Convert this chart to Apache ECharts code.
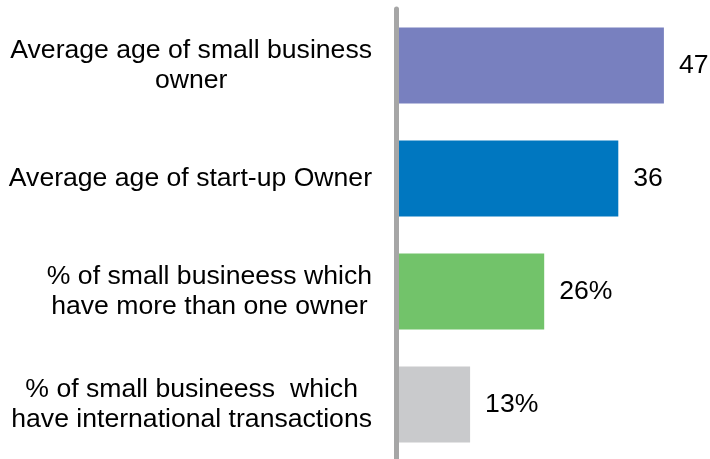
<!DOCTYPE html>
<html>
<head>
<meta charset="UTF-8">
<title>Small business owners</title>
<script src="https://cdn.jsdelivr.net/npm/echarts@6/dist/echarts.min.js"></script>
<style>
  html, body { margin: 0; padding: 0; background: #fff; }
  #main { width: 710px; height: 459px; }
</style>
</head>
<body>
<div id="main"></div>
<script>
// categories, top to bottom
var categories = [
  'Average age of small business\nowner',
  'Average age of start-up Owner',
  '% of small busineess which\nhave more than one owner',
  '% of small busineess  which\nhave international transactions'
];
// bar lengths as drawn in the picture
var barValues = [47, 39, 26, 13];
// text printed next to each bar
var valueLabels = ['47', '36', '26%', '13%'];
var barColors = ['#7880bf', '#0077c0', '#72c36a', '#c9cacc'];

var myChart = echarts.init(document.getElementById('main'));

myChart.setOption({
  animation: false,
  grid: {
    left: 396,
    top: 9,
    width: 285,
    height: 452,
    outerBoundsMode: 'none'
  },
  xAxis: {
    type: 'value',
    min: 0,
    max: 50,
    show: false,
    splitLine: { show: false }
  },
  yAxis: {
    type: 'category',
    inverse: true,
    data: categories,
    z: 3,
    axisLine: {
      show: true,
      lineStyle: { color: '#a6a6a6', width: 5 }
    },
    axisTick: { show: false },
    axisLabel: {
      margin: 24,
      align: 'right',
      formatter: function (v) {
        // each line centred inside the label block
        return v.split('\n').map(function (s) { return '{c|' + s + '}'; }).join('\n');
      },
      rich: {
        c: {
          align: 'center',
          fontFamily: 'Liberation Sans, Arial',
          fontSize: 26.6,
          lineHeight: 30,
          color: '#000'
        }
      }
    }
  },
  series: [{
    type: 'bar',
    barWidth: 76,
    data: barValues.map(function (v, i) {
      return { value: v, itemStyle: { color: barColors[i] } };
    }),
    label: {
      show: true,
      position: 'right',
      distance: 15,
      fontFamily: 'Liberation Sans, Arial',
      fontSize: 26.6,
      color: '#000',
      formatter: function (p) { return valueLabels[p.dataIndex]; }
    }
  }]
});
</script>
</body>
</html>
